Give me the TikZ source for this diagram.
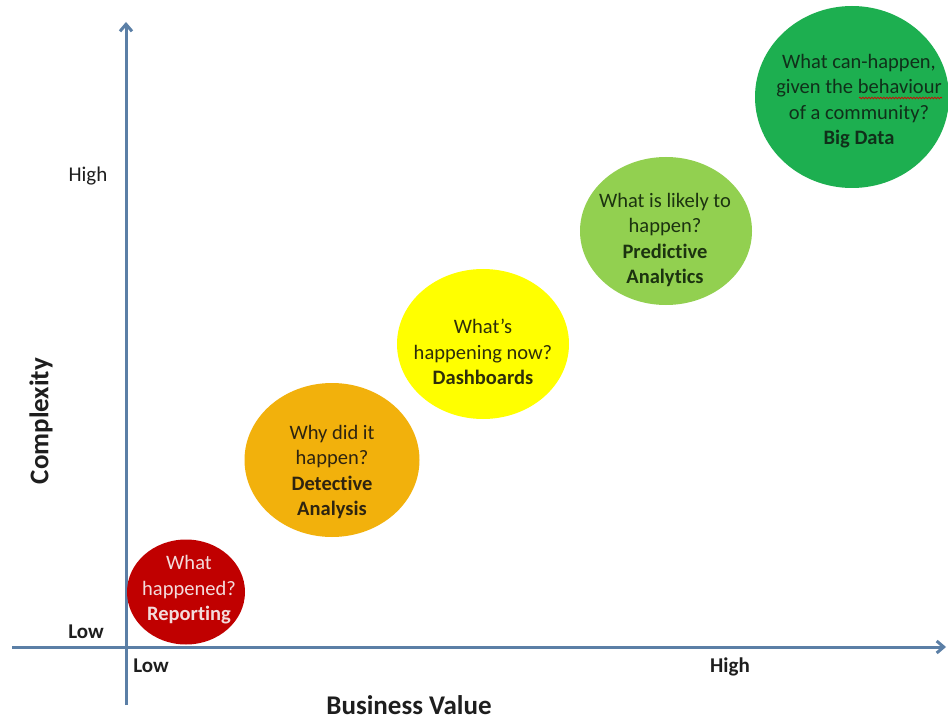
\documentclass[tikz,border=0pt]{standalone}
\usepackage{fontspec}
\setmainfont{Carlito}[Ligatures=NoCommon]
\usetikzlibrary{shapes.geometric,arrows.meta,decorations.pathmorphing}
\definecolor{axisblue}{HTML}{5B7FA6}
\definecolor{labelgray}{HTML}{1E1E1E}
\definecolor{bubblered}{HTML}{C00000}
\definecolor{bubbleorange}{HTML}{F2B10C}
\definecolor{bubbleyellow}{HTML}{FFFF00}
\definecolor{bubblelgreen}{HTML}{92D050}
\definecolor{bubblegreen}{HTML}{1DAF50}
\definecolor{redtext}{HTML}{F3DCDC}
\definecolor{orangetext}{HTML}{2E2410}
\definecolor{yellowtext}{HTML}{2E2E0A}
\definecolor{lgreentext}{HTML}{1C3310}
\definecolor{greentext}{HTML}{10301A}
\begin{document}
\begin{tikzpicture}[x=1pt,y=-1pt,
  bubble/.style={ellipse, inner sep=0pt, draw=none},
  btext/.style={align=center, font=\fontsize{20.5}{25.5}\selectfont, inner sep=0pt},
  axislbl/.style={font=\fontsize{21}{24}\selectfont, text=labelgray, inner sep=0pt},
  axisbold/.style={axislbl, font=\fontsize{21}{24}\selectfont\bfseries},
  axistitle/.style={font=\fontsize{27}{30}\selectfont\bfseries, text=labelgray, inner sep=0pt},
  axisline/.style={draw=axisblue, line width=3pt, -{Straight Barb[length=7pt,width=12pt]}}
]
\useasboundingbox[fill=white] (0,0) rectangle (948,722);

% axes
\coordinate (xs) at (12,647);
\coordinate (xe) at (946,647);
\coordinate (ys) at (126,705);
\coordinate (ye) at (126,22);
\draw[axisline] (xs) -- (xe);
\draw[axisline] (ys) -- (ye);

% bubbles
\node[bubble, fill=bubblered, minimum width=118pt, minimum height=105pt] (red) at (186,592) {};
\node[bubble, fill=bubbleorange, minimum width=175pt, minimum height=154pt] (orange) at (332,460) {};
\node[bubble, fill=bubbleyellow, minimum width=172pt, minimum height=150pt] (yellow) at (483,344) {};
\node[bubble, fill=bubblelgreen, minimum width=172pt, minimum height=148pt] (lgreen) at (666,231) {};
\node[bubble, fill=bubblegreen, minimum width=194pt, minimum height=182pt] (green) at (852,97) {};

% bubble texts
\node[btext, text=redtext] (redt) at (189,590) {What\\happened?\\\textbf{Reporting}};
\node[btext, text=orangetext] (oranget) at (332,472) {Why did it\\happen?\\\textbf{Detective}\\\textbf{Analysis}};
\node[btext, text=yellowtext] (yellowt) at (483,352) {What’s\\happening now?\\\textbf{Dashboards}};
\node[btext, text=lgreentext] (lgreent) at (665,240) {What is likely to\\happen?\\\textbf{Predictive}\\\textbf{Analytics}};
\node[btext, text=greentext] (greent) at (859,101) {What can-happen,\\given the behaviour\\of a community?\\\textbf{Big Data}};
\draw[red!85!black, line width=0.7pt, decorate, decoration={snake, amplitude=0.8pt, segment length=3pt}] (859,98) -- (942,98);

% axis labels
\node[axislbl] (yhigh) at (88,176) {High};
\node[axisbold] (ylow) at (86,632) {Low};
\node[axisbold] (xlow) at (151,666) {Low};
\node[axisbold] (xhigh) at (730,667) {High};
\node[axistitle, rotate=90] (ytitle) at (41,421) {Complexity};
\node[axistitle] (xtitle) at (409,705) {Business Value};
\end{tikzpicture}
\end{document}
